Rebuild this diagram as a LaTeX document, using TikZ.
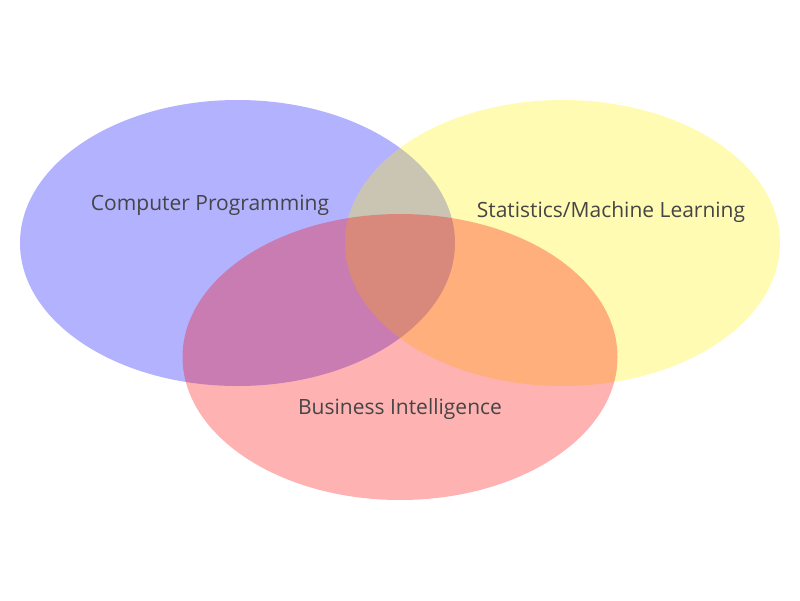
\documentclass[tikz,border=0pt]{standalone}
\usepackage{fontspec}
\setmainfont{Open Sans}
\begin{document}
\begin{tikzpicture}[x=1pt,y=-1pt,
  set/.style={fill opacity=0.3, draw=none},
  setlabel/.style={anchor=base, text=black!73, font=\fontsize{21}{25}\selectfont}]
\useasboundingbox (0,0) rectangle (800,600);
%\draw [help lines] (0,0) grid (800,600);
\fill[set, blue] (237.5,243) ellipse [x radius=217.5, y radius=143];
\fill[set, yellow] (562.5,243) ellipse [x radius=217.5, y radius=143];
\fill[set, red] (400,357) ellipse [x radius=217.5, y radius=143];
\node [setlabel] (prog) at (210,210) {Computer Programming};
\node [setlabel] (stat) at (611,217) {Statistics/Machine Learning};
\node [setlabel] (bi) at (400,414) {Business Intelligence};
\end{tikzpicture}
\end{document}
